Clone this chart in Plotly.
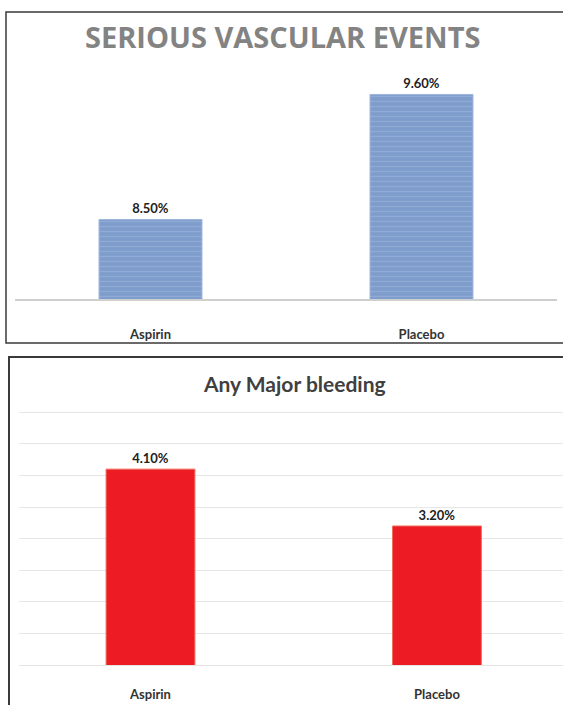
import plotly.graph_objects as go

W, H = 563, 705

# Data
groups = ["Aspirin", "Placebo"]
vascular_events = [8.5, 9.6]    # % with serious vascular events
major_bleeding = [4.1, 3.2]     # % with any major bleeding


def px_x(v):
    return v / W


def px_y(v):
    return 1 - v / H


fig = go.Figure()

valuefont = dict(family="Lato", size=13, color="#222222", weight="bold")

# Upper panel: serious vascular events
fig.add_trace(go.Bar(
    x=groups, y=vascular_events, xaxis="x", yaxis="y",
    width=0.38,
    marker=dict(
        color="#7f9dcc",
        line=dict(color="#9fb5dc", width=1),
        pattern=dict(shape="-", fgcolor="#a3b8dd", size=5, solidity=0.25),
    ),
    texttemplate="%{y:.2f}%", textposition="outside",
    textfont=valuefont,
    cliponaxis=False, showlegend=False,
))

# Lower panel: any major bleeding
fig.add_trace(go.Bar(
    x=groups, y=major_bleeding, xaxis="x2", yaxis="y2",
    width=0.31,
    marker=dict(color="#ed1c24", line=dict(color="#f06a5a", width=1)),
    texttemplate="%{y:.2f}%", textposition="outside",
    textfont=valuefont,
    cliponaxis=False, showlegend=False,
))

tickfont = dict(family="Lato", size=13, color="#333333", weight="bold")

fig.update_layout(
    width=W, height=H,
    margin=dict(l=0, r=0, t=0, b=0),
    paper_bgcolor="white", plot_bgcolor="white",
    xaxis=dict(
        domain=[px_x(15), px_x(557)], range=[-0.5, 1.5],
        showline=True, linecolor="#cfcfcf", linewidth=2,
        showgrid=False, ticks="", tickfont=tickfont, ticklabelstandoff=22,
        fixedrange=True,
    ),
    yaxis=dict(
        domain=[px_y(299), px_y(49)], range=[7.8, 10.0],
        showgrid=False, zeroline=False, showticklabels=False, fixedrange=True,
    ),
    xaxis2=dict(
        domain=[px_x(19), 1.0], range=[-0.459, 1.44], anchor="y2",
        showline=True, linecolor="#e4e4e4", linewidth=1,
        showgrid=False, ticks="", tickfont=tickfont, ticklabelstandoff=17,
        fixedrange=True,
    ),
    yaxis2=dict(
        domain=[px_y(665), px_y(411)], range=[1.0, 5.02], anchor="x2",
        tick0=1.0, dtick=0.5, showgrid=True, gridcolor="#e6e6e6", gridwidth=1,
        zeroline=False, showticklabels=False, fixedrange=True,
    ),
    annotations=[
        dict(text="SERIOUS VASCULAR EVENTS", x=px_x(283), y=px_y(37),
             xref="paper", yref="paper", showarrow=False,
             xanchor="center", yanchor="middle",
             font=dict(family="Open Sans", size=29, color="#838383", weight="bold")),
        dict(text="Any Major bleeding", x=px_x(294), y=px_y(383),
             xref="paper", yref="paper", showarrow=False,
             xanchor="center", yanchor="middle",
             font=dict(family="Lato", size=21, color="#404040", weight="bold")),
    ],
    shapes=[
        dict(type="rect", xref="paper", yref="paper",
             x0=px_x(6), x1=1.05, y0=px_y(343), y1=px_y(12),
             line=dict(color="#3a3a3a", width=1.5)),
        dict(type="rect", xref="paper", yref="paper",
             x0=px_x(9), x1=1.05, y0=-0.05, y1=px_y(357),
             line=dict(color="#3a3a3a", width=2)),
    ],
)

fig.write_html("out.html")
